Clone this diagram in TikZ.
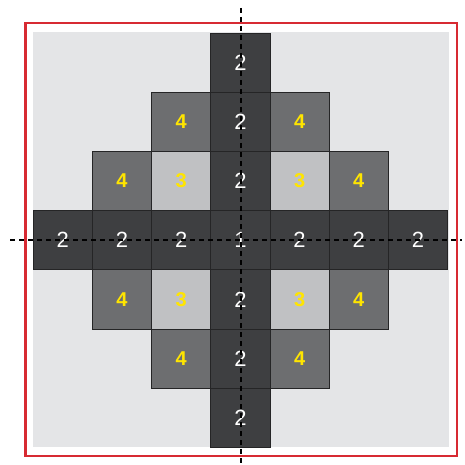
\documentclass[tikz,border=0pt]{standalone}
\usepackage{fontspec}
\setmainfont{Liberation Sans}
\definecolor{redframe}{HTML}{D72A32}
\definecolor{bggray}{HTML}{E4E5E7}
\definecolor{darkcell}{HTML}{3E3F41}
\definecolor{midcell}{HTML}{6D6E70}
\definecolor{lightcell}{HTML}{C0C1C3}
\definecolor{cellline}{HTML}{252526}
\definecolor{numyellow}{HTML}{FFE500}
\begin{document}
\begin{tikzpicture}[x=1pt,y=1pt,
  cell/.style={draw=cellline,line width=0.9pt,minimum width=59.2pt,minimum height=59.2pt,inner sep=0pt,anchor=center},
  darkc/.style={cell,fill=darkcell,text=white,font=\fontsize{22}{22}\selectfont},
  midc/.style={cell,fill=midcell,text=numyellow,font=\fontsize{20}{20}\selectfont\bfseries},
  lightc/.style={cell,fill=lightcell,text=numyellow,font=\fontsize{20}{20}\selectfont\bfseries},
  axis/.style={draw=black,line width=1.9pt,dash pattern=on 5pt off 4pt}]
\useasboundingbox (0,0) rectangle (465,-465);
\fill[white] (0,0) rectangle (465,-465);
\fill[bggray] (33,-32.5) rectangle (448.5,-447);
\draw[redframe,line width=2.4pt] (25.5,-23) rectangle (457,-456);
\def\X#1{33.2+59.2*(#1+0.5)}
\def\Y#1{-(33+59.2*(#1+0.5))}
% row 0
\node[darkc] (r0c3) at ({\X{3}},{\Y{0}}) {2};
% row 1
\node[midc] (r1c2) at ({\X{2}},{\Y{1}}) {4};
\node[darkc] (r1c3) at ({\X{3}},{\Y{1}}) {2};
\node[midc] (r1c4) at ({\X{4}},{\Y{1}}) {4};
% row 2
\node[midc] (r2c1) at ({\X{1}},{\Y{2}}) {4};
\node[lightc] (r2c2) at ({\X{2}},{\Y{2}}) {3};
\node[darkc] (r2c3) at ({\X{3}},{\Y{2}}) {2};
\node[lightc] (r2c4) at ({\X{4}},{\Y{2}}) {3};
\node[midc] (r2c5) at ({\X{5}},{\Y{2}}) {4};
% row 3
\node[darkc] (r3c0) at ({\X{0}},{\Y{3}}) {2};
\node[darkc] (r3c1) at ({\X{1}},{\Y{3}}) {2};
\node[darkc] (r3c2) at ({\X{2}},{\Y{3}}) {2};
\node[darkc] (r3c3) at ({\X{3}},{\Y{3}}) {1};
\node[darkc] (r3c4) at ({\X{4}},{\Y{3}}) {2};
\node[darkc] (r3c5) at ({\X{5}},{\Y{3}}) {2};
\node[darkc] (r3c6) at ({\X{6}},{\Y{3}}) {2};
% row 4
\node[midc] (r4c1) at ({\X{1}},{\Y{4}}) {4};
\node[lightc] (r4c2) at ({\X{2}},{\Y{4}}) {3};
\node[darkc] (r4c3) at ({\X{3}},{\Y{4}}) {2};
\node[lightc] (r4c4) at ({\X{4}},{\Y{4}}) {3};
\node[midc] (r4c5) at ({\X{5}},{\Y{4}}) {4};
% row 5
\node[midc] (r5c2) at ({\X{2}},{\Y{5}}) {4};
\node[darkc] (r5c3) at ({\X{3}},{\Y{5}}) {2};
\node[midc] (r5c4) at ({\X{4}},{\Y{5}}) {4};
% row 6
\node[darkc] (r6c3) at ({\X{3}},{\Y{6}}) {2};
% axes
\coordinate (vtop) at (241,-8);
\coordinate (vbot) at (241,-466);
\coordinate (hleft) at (10,-240);
\coordinate (hright) at (462,-240);
\draw[axis] (vtop) -- (vbot);
\draw[axis] (hleft) -- (hright);
\end{tikzpicture}
\end{document}
